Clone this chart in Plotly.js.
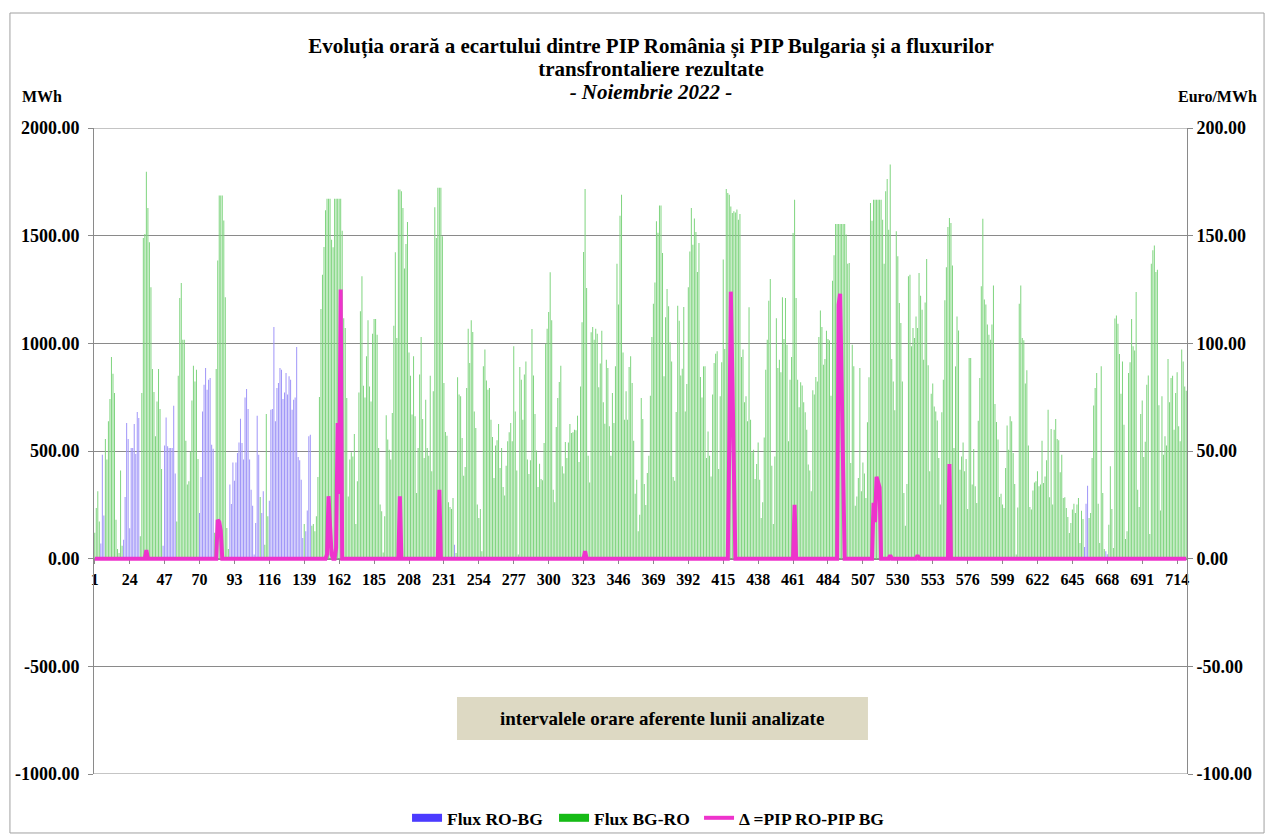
<!DOCTYPE html>
<html><head><meta charset="utf-8">
<script src="https://cdn.plot.ly/plotly-3.0.1.min.js"></script>
<style>html,body{margin:0;padding:0;background:#fff;}</style>
</head><body>
<div id="chart" style="width:1265px;height:834px"></div>
<script>
// Hourly values, November 2022 (720 hours)
const fluxBGRO = [
120,235,313,173,0,0,0,556,460,638,741,937,859,769,181,45,26,410,60,0,0,0,0,0,0,0,0,0,0,0,104,769,1489,1508,1797,1628,1470,1260,881,774,568,730,881,695,416,0,0,0,0,0,0,0,0,0,173,850,1210,1280,1017,1017,548,344,
359,498,734,896,823,877,463,0,0,0,0,0,0,0,0,0,0,120,881,1385,1686,1686,1686,1571,1214,142,45,0,0,0,0,0,0,0,0,0,0,0,0,0,0,0,0,0,0,0,0,286,0,0,65,672,197,0,0,0,0,0,0,0,0,0,0,0,0,0,
0,0,0,0,0,0,0,0,0,0,161,0,0,0,0,153,161,127,197,379,751,1159,1319,1447,1618,1672,1672,1672,1481,1446,1672,1672,1672,1672,1672,1523,1117,1071,746,289,460,494,475,579,161,359,772,1149,1311,803,749,940,1107,800,730,1045,1113,1113,1040,514,251,220,29,197,666,553,
506,460,676,1082,1423,1025,1714,1714,1706,1628,1347,1461,1563,958,850,669,940,661,305,514,855,1029,649,467,738,514,478,850,406,777,1632,1489,1722,1722,1722,1497,816,588,571,262,240,231,282,0,26,842,762,754,560,385,426,793,1068,909,1107,1053,684,607,251,189,231,34,893,971,827,785,
793,645,565,375,525,550,625,421,514,333,293,432,545,587,630,545,986,684,410,19,890,831,645,855,916,460,393,457,1067,851,672,502,333,441,370,364,537,998,1068,1146,1330,1107,320,262,611,746,820,896,429,395,542,467,540,625,584,587,599,596,664,449,800,1098,1424,1717,1257,478,
354,1051,1076,1017,1068,1045,796,906,1059,726,627,924,885,615,478,769,630,893,1370,1180,1593,1690,958,645,777,645,890,940,816,548,302,367,127,204,746,649,347,249,398,478,757,1029,1184,1283,1567,1513,1640,1640,1420,847,1121,1252,1172,1005,916,379,362,681,1175,1105,851,882,1169,684,811,
1260,1427,1628,1458,1580,1517,1331,1466,844,749,893,893,467,591,478,382,762,909,952,963,416,754,912,1389,974,1717,1698,1690,1636,1605,1613,1608,1621,1574,1601,937,971,726,754,638,1167,645,494,506,370,440,540,367,189,262,563,877,1017,1198,1299,432,161,475,1117,885,924,866,1214,1020,1210,994,
545,831,937,1512,1667,1210,831,703,819,804,726,680,599,437,410,313,782,762,844,823,1029,1152,1076,901,927,1059,1020,1014,757,1291,1409,1554,1554,1554,1554,1554,1554,1554,1505,1370,1373,444,993,893,246,289,375,885,313,447,395,282,633,842,1652,1569,1667,1667,1667,1667,1667,1667,1574,1370,1706,1763,
1528,1830,927,823,689,1520,1404,1187,1095,823,305,153,347,1311,1319,986,1071,1025,1125,1071,1327,1221,1156,924,1190,1392,898,406,766,813,707,684,642,467,251,680,831,1200,1353,1540,1582,1559,1361,514,893,1125,1060,413,475,540,406,463,231,932,932,344,509,336,259,641,839,1265,1579,1203,1180,1087,
1040,1017,1087,1268,718,635,553,286,302,251,235,421,618,506,661,638,491,347,19,238,1184,1269,1025,1014,813,875,526,240,228,317,354,359,406,336,344,548,351,382,457,692,285,602,251,599,649,556,550,401,483,282,285,235,193,119,166,228,255,212,251,282,73,223,184,0,0,
0,189,212,467,711,793,862,255,73,893,305,45,0,0,158,429,231,50,1115,1129,1091,950,766,916,622,91,127,862,912,1113,986,967,1238,320,240,672,734,472,543,808,851,115,1370,1432,1454,1331,1342,712,224,754,483,568,526,927,726,839,850,599,769,866,615,545,971,916,800,780
];

const fluxROBG = [
0,0,0,0,70,483,200,0,0,0,0,0,0,0,0,0,0,0,0,88,286,630,556,141,
514,514,625,486,681,653,0,0,0,0,0,0,0,0,0,0,0,0,0,0,0,60,525,656,
522,514,514,514,710,395,0,0,0,0,0,0,0,0,0,0,0,0,0,0,0,212,379,684,
808,885,785,831,839,529,511,0,0,0,0,0,0,0,0,0,0,344,254,447,362,447,491,540,
650,537,460,749,788,695,460,320,246,19,166,664,483,0,212,313,0,0,0,269,692,695,1076,638,
793,816,885,877,741,772,862,762,847,831,692,738,749,983,472,457,367,96,0,127,224,568,576,0,
0,0,0,0,0,0,0,0,0,0,0,0,0,0,0,0,0,0,0,0,0,0,0,0,
0,0,0,0,0,0,0,0,0,0,0,0,0,0,0,0,0,0,0,0,0,0,0,0,
0,0,0,0,0,0,0,0,0,0,0,0,0,0,0,0,0,0,0,0,0,0,0,0,
0,0,0,0,0,0,0,0,0,0,0,0,0,0,0,0,0,0,0,0,0,65,0,0,
0,0,0,0,0,0,0,0,0,0,0,0,0,0,0,0,0,0,0,0,0,0,0,0,
0,0,0,0,0,0,0,0,0,0,0,0,0,0,0,0,0,0,0,0,0,0,0,0,
0,0,0,0,0,0,0,0,0,0,0,0,0,0,0,0,0,0,0,0,0,0,0,0,
0,0,0,0,0,0,0,0,0,0,0,0,0,0,0,0,0,0,0,0,0,0,0,0,
0,0,0,0,0,0,0,0,0,0,0,0,0,0,0,0,0,0,0,0,0,0,0,0,
0,0,0,0,0,0,0,0,0,0,0,0,0,0,0,0,0,0,0,0,0,0,0,0,
0,0,0,0,0,0,0,0,0,0,0,0,0,0,0,0,0,0,0,0,0,0,0,0,
0,0,0,0,0,0,0,0,0,0,0,0,0,0,0,0,0,0,0,0,0,0,0,0,
0,0,0,0,0,0,0,0,0,0,0,0,0,0,0,0,0,0,0,0,0,0,0,0,
0,0,0,0,0,0,0,0,0,0,0,0,0,0,0,0,0,0,0,0,0,0,0,0,
0,0,0,0,0,0,0,0,0,0,0,0,0,0,0,0,0,0,0,0,0,0,0,0,
0,0,0,0,0,0,0,0,0,0,0,0,0,0,0,0,0,0,0,0,0,0,0,0,
0,0,0,0,0,0,0,0,0,0,0,0,0,0,0,0,0,0,0,0,0,0,0,0,
0,0,0,0,0,0,0,0,0,0,0,0,0,0,0,0,0,0,0,0,0,0,0,0,
0,0,0,0,0,0,0,0,0,0,0,0,0,0,0,0,0,0,0,0,0,0,0,0,
0,0,0,0,0,0,0,0,0,0,0,0,0,0,0,0,0,0,0,0,0,0,0,0,
0,0,0,0,0,0,0,0,0,0,0,0,0,0,0,0,0,0,0,0,0,0,0,0,
0,0,0,0,54,255,339,0,0,0,0,0,0,0,0,0,0,0,34,20,0,0,0,0,
0,0,0,0,0,0,0,0,0,0,0,0,0,0,0,0,0,0,0,0,0,0,0,0,
0,0,0,0,0,0,0,0,0,0,0,0,0,0,0,0,0,0,0,0,0,0,0,0
];

const deltaPIP = [
0,0,0,0,0,0,0,0,0,0,0,0,0,0,0,0,0,0,0,0,0,0,0,0,
0,0,0,0,0,0,0,0,0,0,4,0,0,0,0,0,0,0,0,0,0,0,0,0,
0,0,0,0,0,0,0,0,0,0,0,0,0,0,0,0,0,0,0,0,0,0,0,0,
0,0,0,0,0,0,0,0,0,18,17,13,0,0,0,0,0,0,0,0,0,0,0,0,
0,0,0,0,0,0,0,0,0,0,0,0,0,0,0,0,0,0,0,0,0,0,0,0,
0,0,0,0,0,0,0,0,0,0,0,0,0,0,0,0,0,0,0,0,0,0,0,0,
0,0,0,0,0,0,0,0,0,2,29,15,2,0,0,5,63,30,125,0,0,0,0,0,
0,0,0,0,0,0,0,0,0,0,0,0,0,0,0,0,0,0,0,0,0,0,0,0,
0,0,0,0,0,0,0,0,0,29,0,0,0,0,0,0,0,0,0,0,0,0,0,0,
0,0,0,0,0,0,0,0,0,0,0,32,0,0,0,0,0,0,0,0,0,0,0,0,
0,0,0,0,0,0,0,0,0,0,0,0,0,0,0,0,0,0,0,0,0,0,0,0,
0,0,0,0,0,0,0,0,0,0,0,0,0,0,0,0,0,0,0,0,0,0,0,0,
0,0,0,0,0,0,0,0,0,0,0,0,0,0,0,0,0,0,0,0,0,0,0,0,
0,0,0,0,0,0,0,0,0,0,0,3.5,0,0,0,0,0,0,0,0,0,0,0,0,
0,0,0,0,0,0,0,0,0,0,0,0,0,0,0,0,0,0,0,0,0,0,0,0,
0,0,0,0,0,0,0,0,0,0,0,0,0,0,0,0,0,0,0,0,0,0,0,0,
0,0,0,0,0,0,0,0,0,0,0,0,0,0,0,0,0,0,0,0,0,0,0,0,
0,0,0,0,0,0,0,0,0,0,55,124,85,42,0,0,0,0,0,0,0,0,0,0,
0,0,0,0,0,0,0,0,0,0,0,0,0,0,0,0,0,0,0,0,0,0,0,0,
0,0,0,0,0,25,0,0,0,0,0,0,0,0,0,0,0,0,0,0,0,0,0,0,
0,0,0,0,0,0,0,0,0,0,118,123,82,41,0,0,0,0,0,0,0,0,0,0,
0,0,0,0,0,0,0,0,0,26,17,38,36,33,0,0,0,0,0,0,1.5,0,0,0,
0,0,0,0,0,0,0,0,0,0,0,0,0,0,1.5,0,0,0,0,0,0,0,0,0,
0,0,0,0,0,0,0,0,0,0,0,44,0,0,0,0,0,0,0,0,0,0,0,0,
0,0,0,0,0,0,0,0,0,0,0,0,0,0,0,0,0,0,0,0,0,0,0,0,
0,0,0,0,0,0,0,0,0,0,0,0,0,0,0,0,0,0,0,0,0,0,0,0,
0,0,0,0,0,0,0,0,0,0,0,0,0,0,0,0,0,0,0,0,0,0,0,0,
0,0,0,0,0,0,0,0,0,0,0,0,0,0,0,0,0,0,0,0,0,0,0,0,
0,0,0,0,0,0,0,0,0,0,0,0,0,0,0,0,0,0,0,0,0,0,0,0,
0,0,0,0,0,0,0,0,0,0,0,0,0,0,0,0,0,0,0,0,0,0,0,0
];

const seriesNames = ['Flux RO-BG', 'Flux BG-RO', 'Δ =PIP RO-PIP BG'];
const titleLines = ['Evoluția orară a ecartului dintre PIP România și PIP Bulgaria și a fluxurilor',
                    'transfrontaliere rezultate', '<i>- Noiembrie 2022 -</i>'];
const leftTickVals = [-1000, -500, 0, 500, 1000, 1500, 2000];
const leftTickText = ['-1000.00', '-500.00', '0.00', '500.00', '1000.00', '1500.00', '2000.00'];
const rightTickVals = [-100, -50, 0, 50, 100, 150, 200];
const rightTickText = ['-100.00', '-50.00', '0.00', '50.00', '100.00', '150.00', '200.00'];

if (fluxBGRO.length !== 720 || fluxROBG.length !== 720 || deltaPIP.length !== 720) {
  throw new Error('length mismatch ' + fluxBGRO.length + ' ' + fluxROBG.length + ' ' + deltaPIP.length);
}

const hours = fluxBGRO.map((_, i) => i + 1);

const FONT = '"Liberation Serif", "Times New Roman", serif';
const GRID = '#8a8a8a';
const BLUE = '#4b3bff', GREEN = '#16bb16', MAGENTA = '#ee33cc';

const traces = [
  { type: 'bar', x: hours, y: fluxROBG, name: seriesNames[0], showlegend: false,
    marker: { color: 'rgba(160,150,248,0.99)' }, hoverinfo: 'x+y' },
  { type: 'bar', x: hours, y: fluxBGRO, name: seriesNames[1], showlegend: false,
    marker: { color: 'rgba(128,212,128,0.99)' }, hoverinfo: 'x+y' },
  { type: 'scatter', mode: 'lines', x: [null], y: [null], name: seriesNames[0],
    line: { color: BLUE, width: 8 }, hoverinfo: 'skip', legendwidth: 102 },
  { type: 'scatter', mode: 'lines', x: [null], y: [null], name: seriesNames[1],
    line: { color: GREEN, width: 8 }, hoverinfo: 'skip', legendwidth: 100 },
  { type: 'scatter', mode: 'lines', x: hours, y: deltaPIP, name: seriesNames[2], yaxis: 'y2',
    line: { color: MAGENTA, width: 4 } }
];

const tf = { family: FONT, size: 16, color: '#000', weight: 'bold' };
const tickF = { family: FONT, size: 18, color: '#000', weight: 'bold' };
const xTickF = { family: FONT, size: 16, color: '#000', weight: 'bold' };

const layout = {
  width: 1265, height: 834,
  margin: { l: 94, r: 78, t: 128, b: 60, autoexpand: false },
  paper_bgcolor: '#fff', plot_bgcolor: '#fff',
  font: tf,
  title: {
    text: titleLines.map(t => '<span style="font-size:21px">' + t + '</span>').join('<br>'),
    font: { family: FONT, size: 18, color: '#000', weight: 'bold' },
    xref: 'paper', x: 0.5096, xanchor: 'center',
    yref: 'container', y: 0.937, yanchor: 'top'
  },
  barmode: 'overlay', bargap: 0.33,
  showlegend: true,
  legend: { orientation: 'h', x: 0.2864, xanchor: 'left', y: -0.068, yanchor: 'middle',
            font: { family: FONT, size: 17.5, color: '#000', weight: 'bold' },
            bgcolor: 'rgba(0,0,0,0)', traceorder: 'normal' },
  xaxis: {
    range: [0.5, 720.5], tickmode: 'linear', tick0: 1, dtick: 23,
    anchor: 'free', position: 1/3,
    showline: true, linecolor: GRID, linewidth: 1,
    ticks: 'outside', ticklen: 4, tickcolor: GRID, ticklabelstandoff: 2,
    showgrid: false, zeroline: false, tickfont: xTickF, layer: 'below traces'
  },
  yaxis: {
    range: [-1000, 2000], tickmode: 'array', tickvals: leftTickVals, ticktext: leftTickText,
    showgrid: true, gridcolor: GRID, gridwidth: 1, zeroline: false,
    showline: true, linecolor: GRID, linewidth: 1,
    ticks: 'outside', ticklen: 5, tickcolor: GRID, ticklabelstandoff: 5,
    tickfont: tickF
  },
  yaxis2: {
    range: [-100, 200], tickmode: 'array', tickvals: rightTickVals, ticktext: rightTickText,
    overlaying: 'y', side: 'right', anchor: 'x',
    showgrid: false, zeroline: false,
    showline: true, linecolor: GRID, linewidth: 1,
    ticks: 'outside', ticklen: 5, tickcolor: GRID,
    tickfont: tickF
  },
  shapes: [
    { type: 'line', xref: 'paper', yref: 'y', x0: 0, x1: 1, y0: 2000, y1: 2000, line: { color: GRID, width: 1 }, layer: 'below' },
    { type: 'line', xref: 'paper', yref: 'y', x0: 0, x1: 1, y0: -1000, y1: -1000, line: { color: GRID, width: 1 }, layer: 'below' },
    { type: 'rect', xref: 'paper', yref: 'paper', x0: -0.0769, x1: 1.0705, y0: -0.0913, y1: 1.178,
      line: { color: '#a0a0a0', width: 1 }, fillcolor: 'rgba(0,0,0,0)', layer: 'below' },
    { type: 'rect', xref: 'paper', yref: 'paper', x0: 0.3321, x1: 0.7081, y0: 0.0526, y1: 0.1192,
      line: { width: 0 }, fillcolor: '#ddd9c3', layer: 'above' }
  ],
  annotations: [
    { text: 'MWh', xref: 'paper', yref: 'paper', x: -0.0476, y: 1.048, showarrow: false,
      xanchor: 'center', yanchor: 'middle', font: tf },
    { text: 'Euro/MWh', xref: 'paper', yref: 'paper', x: 1.0275, y: 1.048, showarrow: false,
      xanchor: 'center', yanchor: 'middle', font: tf },
    { text: 'intervalele orare aferente lunii analizate', xref: 'paper', yref: 'paper',
      x: 0.5201, y: 0.0859, showarrow: false, xanchor: 'center', yanchor: 'middle',
      font: { family: FONT, size: 19, color: '#000', weight: 'bold' } }
  ]
};

Plotly.newPlot('chart', traces, layout, { displayModeBar: false });
</script>
</body></html>
